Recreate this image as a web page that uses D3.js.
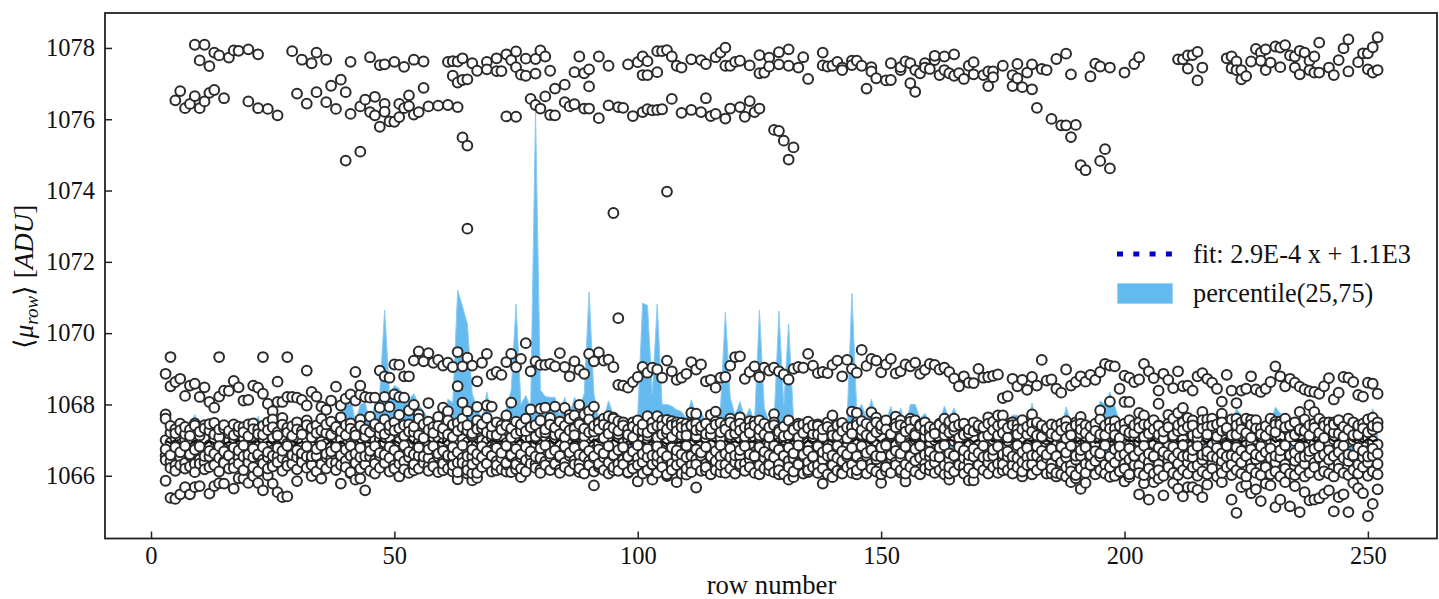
<!DOCTYPE html>
<html>
<head>
<meta charset="utf-8">
<script src="https://d3js.org/d3.v7.min.js"></script>
<style>
  body { margin: 0; background: #fff; }
  text { font-family: "Liberation Serif", serif; fill: #111; }
</style>
</head>
<body>
<div id="chart"></div>
<script>
const firstRow = 3;

const xTicks = [0, 50, 100, 150, 200, 250];
const yTicks = [1066, 1068, 1070, 1072, 1074, 1076, 1078];

const fitRows = [3, 252];
const fitValues = [1066.88, 1066.95];

// percentile band, one value per row from row 3, ten rows a line
const p75 = [
  1067.3,1067.3,1067.35,1067.3,1067.35,1067.4,1067.72,1067.3,1067.25,1067.3,
  1067.35,1067.3,1067.3,1067.35,1067.3,1067.3,1067.35,1067.3,1067.3,1067.67,
  1067.3,1067.3,1067.35,1067.46,1067.3,1067.3,1067.35,1067.3,1067.3,1067.35,
  1067.45,1067.55,1067.4,1067.3,1067.35,1067.4,1067.8,1068.15,1068.2,1067.5,
  1068.0,1068.05,1067.5,1068.0,1068.3,1070.65,1068.3,1068.53,1068.45,1068.2,
  1068.15,1068.3,1068.0,1067.8,1067.6,1067.5,1067.5,1067.5,1068.15,1068.05,
  1071.2,1070.75,1070.26,1068.3,1067.9,1067.6,1068.35,1067.6,1067.5,1067.6,
  1067.9,1068.4,1070.82,1068.0,1068.25,1067.9,1076.2,1068.4,1068.22,1068.2,
  1068.2,1067.7,1068.2,1067.7,1068.2,1067.9,1068.3,1071.15,1068.3,1067.6,
  1067.6,1068.1,1067.7,1067.4,1067.5,1067.4,1067.5,1067.7,1070.84,1070.78,
  1068.3,1070.82,1068.0,1068.0,1067.95,1067.85,1067.8,1067.6,1068.13,1067.7,
  1067.8,1067.5,1067.6,1067.5,1067.9,1070.59,1068.2,1067.7,1068.08,1067.6,
  1067.9,1067.5,1070.65,1067.9,1067.5,1067.5,1070.62,1068.0,1070.26,1067.6,
  1067.5,1067.4,1067.45,1067.4,1067.4,1067.5,1067.45,1067.4,1067.65,1067.45,
  1067.5,1071.12,1067.8,1068.0,1067.6,1068.15,1067.6,1067.5,1067.5,1067.95,
  1067.4,1067.9,1067.4,1068.0,1068.0,1067.6,1067.75,1067.5,1067.4,1067.5,
  1067.95,1067.6,1067.9,1067.5,1067.5,1067.4,1067.5,1067.5,1067.4,1067.75,
  1067.4,1067.4,1067.5,1067.5,1067.7,1067.7,1067.4,1067.4,1068.04,1067.5,
  1067.4,1067.35,1067.4,1067.35,1067.3,1067.93,1067.5,1067.4,1067.35,1067.4,
  1067.4,1067.5,1068.1,1068.0,1068.35,1067.95,1067.5,1067.4,1067.4,1067.35,
  1067.4,1067.3,1067.35,1067.4,1067.35,1067.3,1067.4,1067.35,1067.4,1067.35,
  1067.7,1067.4,1067.35,1067.3,1067.4,1067.35,1067.3,1067.35,1067.4,1067.45,
  1067.88,1067.7,1067.55,1067.4,1067.35,1067.4,1067.4,1067.5,1067.93,1067.75,
  1067.5,1067.4,1067.5,1067.6,1067.4,1067.35,1067.4,1067.35,1067.3,1067.4,
  1067.35,1067.4,1067.35,1067.7,1067.4,1067.35,1067.5,1067.55,1067.88,1067.5
];
const p25 = [
  1066.6,1066.6,1066.5,1066.6,1066.6,1066.5,1066.6,1066.7,1066.6,1066.6,
  1066.6,1066.5,1066.6,1066.6,1066.7,1066.6,1066.6,1066.5,1066.6,1066.6,
  1066.6,1066.7,1066.6,1066.5,1066.6,1066.6,1066.6,1066.7,1066.6,1066.6,
  1066.5,1066.6,1066.6,1066.7,1066.6,1066.6,1066.6,1066.5,1066.6,1066.6,
  1066.7,1066.6,1066.6,1066.6,1066.5,1066.6,1066.7,1066.6,1066.6,1066.6,
  1066.6,1066.5,1066.6,1066.6,1066.7,1066.6,1066.6,1066.6,1066.5,1066.6,
  1066.6,1066.6,1066.7,1066.6,1066.5,1066.6,1066.6,1066.6,1066.7,1066.6,
  1066.6,1066.5,1066.6,1066.6,1066.6,1066.7,1066.6,1066.6,1066.7,1066.6,
  1066.6,1066.5,1066.6,1066.7,1066.6,1066.6,1066.6,1066.6,1066.5,1066.6,
  1066.7,1066.6,1066.6,1066.6,1066.6,1066.5,1066.6,1066.6,1066.7,1066.6,
  1066.6,1066.6,1066.5,1066.6,1066.6,1066.7,1066.6,1066.6,1066.6,1066.5,
  1066.6,1066.6,1066.7,1066.6,1066.6,1066.6,1066.5,1066.6,1066.6,1066.7,
  1066.6,1066.6,1066.6,1066.5,1066.6,1066.6,1066.7,1066.6,1066.6,1066.6,
  1066.5,1066.6,1066.6,1066.7,1066.6,1066.6,1066.6,1066.5,1066.6,1066.6,
  1066.7,1066.6,1066.6,1066.6,1066.5,1066.6,1066.6,1066.7,1066.6,1066.6,
  1066.6,1066.5,1066.6,1066.6,1066.7,1066.6,1066.6,1066.6,1066.5,1066.6,
  1066.6,1066.7,1066.6,1066.6,1066.6,1066.5,1066.6,1066.6,1066.7,1066.6,
  1066.6,1066.6,1066.5,1066.6,1066.6,1066.7,1066.6,1066.6,1066.6,1066.5,
  1066.6,1066.6,1066.7,1066.6,1066.6,1066.6,1066.5,1066.6,1066.6,1066.7,
  1066.6,1066.6,1066.6,1066.5,1066.6,1066.6,1066.7,1066.6,1066.5,1066.6,
  1066.6,1066.5,1066.6,1066.7,1066.6,1066.6,1066.5,1066.6,1066.6,1066.6,
  1066.7,1066.6,1066.5,1066.6,1066.6,1066.6,1066.7,1066.6,1066.5,1066.6,
  1066.6,1066.6,1066.7,1066.6,1066.5,1066.6,1066.6,1066.6,1066.7,1066.6,
  1066.5,1066.6,1066.6,1066.6,1066.7,1066.6,1066.5,1066.6,1066.6,1066.6,
  1066.7,1066.6,1066.5,1066.6,1066.6,1066.6,1066.7,1066.6,1066.6,1066.6
];

// upper band of the scatter, read point by point as [row, value]
const topPoints = [
  [9,1078.09],[11,1078.09],[13,1077.87],[14,1077.79],[16,1077.73],[17,1077.93],[18,1077.92],[20,1077.96],[22,1077.82],[10,1077.65],[12,1077.49],
  [29,1077.91],[31,1077.67],[33,1077.57],[34,1077.87],[36,1077.67],[41,1077.61],[45,1077.74],[47,1077.52],[48,1077.54],[50,1077.61],[52,1077.47],[54,1077.67],[56,1077.62],
  [61,1077.61],[62,1077.63],[63,1077.62],[64,1077.71],[66,1077.57],[67,1077.36],[69,1077.61],[69,1077.4],[71,1077.71],[71,1077.35],[72,1077.35],[73,1077.82],[74,1077.66],
  [75,1077.9],[75,1077.46],[76,1077.25],[77,1077.7],[77,1077.22],[79,1077.69],[79,1077.28],[80,1077.93],[81,1077.76],[82,1077.36],[62,1077.22],[63,1077.03],[64,1077.1],[65,1077.12],
  [6,1076.79],[5,1076.53],[7,1076.31],[8,1076.43],[9,1076.65],[10,1076.31],[11,1076.5],[12,1076.74],[13,1076.82],[15,1076.59],[20,1076.5],[22,1076.31],[24,1076.29],[26,1076.11],
  [30,1076.72],[32,1076.44],[34,1076.76],[36,1076.48],[37,1076.94],[38,1076.29],[39,1077.11],[40,1076.76],[41,1076.15],[43,1076.36],[44,1076.55],[45,1076.2],[46,1076.63],[46,1076.11],
  [48,1076.43],[48,1076.21],[47,1075.79],[49,1075.94],[50,1075.93],[51,1076.06],[51,1076.43],[52,1076.31],[53,1076.67],[53,1076.37],[54,1076.13],[55,1076.2],[56,1076.88],[57,1076.36],
  [59,1076.38],[61,1076.4],[63,1076.34],[78,1076.57],[79,1076.4],[80,1076.3],[81,1076.64],[73,1076.08],[75,1076.07],[82,1076.12],[64,1075.49],[65,1075.26],[40,1074.84],[43,1075.09],[65,1072.93],
  [85,1076.97],[83,1076.86],[83,1076.11],[85,1076.48],[86,1076.36],[87,1076.42],[87,1077.32],[88,1077.76],[89,1077.29],[90,1077.4],[90,1076.92],[89,1076.3],[90,1076.3],[92,1077.76],[94,1077.5],
  [92,1076.03],[94,1076.39],[96,1076.34],[97,1076.32],[98,1077.54],[99,1076.09],[100,1077.6],[101,1077.76],[101,1077.24],[102,1077.63],[102,1077.24],[101,1076.2],[102,1076.28],[103,1076.25],
  [104,1076.26],[104,1077.32],[104,1077.91],[105,1077.91],[106,1077.94],[105,1076.28],[107,1077.76],[107,1076.57],[108,1077.5],[109,1077.45],[109,1076.18],[111,1076.26],[111,1077.68],
  [113,1077.66],[113,1076.2],[114,1077.55],[114,1076.59],[115,1076.09],[116,1076.15],[116,1077.74],[117,1077.87],[118,1078.01],[118,1077.5],[118,1076.02],[119,1076.3],[119,1077.5],
  [120,1077.61],[121,1077.64],[121,1076.34],[122,1076.07],[123,1077.51],[123,1076.51],[124,1076.2],[125,1077.8],[125,1077.29],[125,1076.3],[126,1077.31],[127,1077.73],[127,1077.48],
  [129,1077.88],[129,1077.54],[131,1077.96],[131,1077.5],[133,1077.45],[134,1077.74],[135,1077.13],[128,1075.7],[129,1075.67],[130,1075.4],[132,1075.21],[131,1074.87],[106,1073.97],[95,1073.37],
  [138,1077.87],[138,1077.51],[139,1077.48],[140,1077.5],[141,1077.61],[142,1077.45],[142,1077.38],[144,1077.64],[144,1077.52],[145,1077.64],[146,1077.5],[147,1076.86],[148,1077.46],[148,1077.34],
  [149,1077.15],[151,1077.09],[152,1077.1],[152,1077.57],[154,1077.38],[154,1077.46],[155,1077.62],[156,1077.57],[156,1077.01],[157,1077.38],[157,1076.77],[158,1077.29],[159,1077.57],[159,1077.45],
  [160,1077.41],[161,1077.66],[161,1077.78],[162,1077.24],[163,1077.76],[163,1077.38],[164,1077.29],[165,1077.82],[165,1077.22],[166,1077.29],[167,1077.13],[168,1077.5],[169,1077.6],[169,1077.26],
  [171,1077.24],[172,1076.93],[172,1077.34],[173,1077.34],[173,1077.18],[175,1077.5],[177,1077.24],[177,1076.93],[178,1077.15],[178,1077.55],[179,1076.9],[180,1077.31],[181,1077.54],[181,1076.84],
  [182,1076.32],[183,1077.41],[184,1077.38],[185,1076.01],[186,1077.69],[188,1077.84],[187,1075.83],[188,1075.83],[189,1077.26],[189,1075.5],[190,1075.84],[191,1074.71],[192,1074.57],[193,1077.2],
  [194,1077.56],[195,1077.48],[195,1074.83],[196,1075.16],[197,1077.45],[197,1074.62],[200,1077.31],[202,1077.55],[203,1077.74],[211,1077.68],[212,1077.68],[213,1077.79],[214,1077.8],[215,1077.89],
  [213,1077.42],[216,1077.45],[215,1077.09],[221,1077.71],[222,1077.76],[222,1077.43],[223,1077.62],[223,1077.38],[224,1077.38],[224,1077.12],[225,1077.21],[226,1077.62],[227,1077.97],[228,1077.87],
  [228,1077.64],[229,1077.96],[229,1077.38],[230,1077.59],[231,1078.04],[232,1077.46],[232,1078.01],[233,1078.08],[234,1077.79],[235,1077.76],[235,1077.45],[236,1077.92],[236,1077.26],[237,1077.87],
  [238,1077.64],[238,1077.38],[239,1077.76],[239,1077.31],[240,1078.15],[240,1077.31],[242,1077.45],[243,1077.24],[244,1077.66],[245,1077.99],[246,1078.24],[246,1077.34],[248,1077.6],[249,1077.85],
  [250,1077.85],[250,1077.4],[251,1078.02],[251,1077.31],[252,1078.3],[252,1077.38],[96,1070.42]
];

// band around 1069, one value per row from row 3
const midBand = [
  1068.86,1069.33,1068.63,1068.72,1068.24,1068.53,1068.58,1068.21,1068.48,1068.07,
  1067.91,1069.33,1068.39,1068.38,1068.66,1068.48,1068.11,1068.13,1068.53,1068.47,
  1069.33,1068.02,1067.81,1068.64,1068.07,1069.33,1068.21,1068.19,1068.13,1068.95,
  1068.35,1068.22,1067.94,1067.85,1068.11,1068.5,1067.97,1068.16,1068.28,1068.91,
  1068.53,1068.21,1068.19,1068.19,1068.95,1068.79,1068.75,1069.12,1069.11,1068.79,
  1068.79,1069.23,1069.49,1069.21,1069.44,1069.17,1069.25,1069.09,1069.17,1069.05,
  1069.47,1069.07,1069.31,1069.09,1068.65,1069.17,1069.42,1068.84,1068.91,1068.83,
  1069.19,1069.42,1069.05,1069.28,1069.72,1068.93,1069.21,1069.11,1069.11,1069.14,
  1069.07,1069.44,1069.05,1068.79,1069.21,1068.97,1068.86,1069.42,1069.21,1069.46,
  1069.23,1069.26,1069.05,1068.55,1068.53,1068.47,1068.63,1068.77,1069.05,1068.89,
  1069.03,1068.98,1068.75,1069.23,1068.93,1068.69,1068.75,1068.86,1069.19,1068.98,
  1069.12,1068.65,1068.69,1068.47,1068.75,1068.77,1069.09,1069.33,1069.35,1068.72,
  1068.91,1069.07,1068.77,1069.03,1068.95,1069.03,1068.93,1068.84,1068.7,1069.0,
  1069.05,1069.03,1069.42,1069.09,1068.88,1068.91,1068.88,1069.11,1069.23,1068.79,
  1069.25,1069.0,1068.89,1069.53,1069.08,1069.28,1069.23,1068.9,1069.12,1069.28,
  1068.87,1068.93,1069.12,1069.07,1069.17,1068.86,1068.97,1069.14,1069.11,1068.98,
  1069.03,1068.91,1068.73,1068.51,1068.79,1068.61,1068.6,1069.0,1068.75,1068.77,
  1068.8,1068.84,1068.18,1068.23,1068.72,1068.51,1068.69,1068.41,1068.77,1068.53,
  1069.25,1068.67,1068.7,1068.44,1068.33,1068.98,1068.53,1068.63,1068.79,1068.64,
  1068.83,1068.69,1068.91,1069.14,1069.09,1069.07,1068.44,1068.81,1068.75,1068.63,
  1068.7,1069.14,1068.93,1068.74,1068.39,1068.86,1068.69,1068.46,1068.93,1068.51,
  1068.53,1068.39,1068.79,1068.88,1068.72,1068.61,1068.44,1068.08,1068.83,1068.39,
  1068.04,1068.39,1068.44,1068.79,1068.42,1068.35,1068.44,1068.63,1069.07,1068.79,
  1068.51,1068.72,1068.61,1068.5,1068.42,1068.37,1068.35,1068.3,1068.51,1068.74,
  1068.14,1068.33,1068.77,1068.75,1068.63,1068.27,1068.22,1068.61,1068.58,1068.3
];

// second tier just above the dense core
const tierPoints = [
  [4,1068.51],[14,1068.22],[23,1068.3],[26,1068.07],[28,1068.21],[32,1067.97],[42,1068.11],[43,1068.28],[47,1067.91],[48,1068.21],[49,1067.93],[50,1068.28],[51,1068.21],[52,1068.19],[53,1067.83],
  [54,1067.99],[55,1067.72],[57,1068.04],[60,1067.91],[61,1067.81],[63,1068.51],[64,1068.05],[65,1067.81],[67,1067.93],[69,1067.97],[70,1067.94],[74,1068.05],[78,1067.86],[80,1067.88],[81,1067.91],
  [83,1067.94],[85,1067.9],[86,1067.71],[87,1067.69],[88,1067.99],[89,1067.72],[90,1067.81],[91,1067.94],[92,1067.5],[93,1067.6],[94,1067.67],[95,1067.63],[96,1067.53],[99,1067.5],[102,1067.67],
  [104,1067.67],[105,1067.55],[106,1067.57],[107,1067.53],[108,1067.5],[109,1067.48],[110,1067.46],[111,1067.76],[112,1067.74],[112,1067.46],[115,1067.71],[116,1067.8],[117,1067.48],[119,1067.6],
  [121,1067.64],[123,1067.53],[125,1067.55],[128,1067.73],[133,1067.46],[135,1067.36],[137,1067.44],[140,1067.69],[142,1067.44],[144,1067.8],[145,1067.76],[146,1067.53],[148,1067.78],[149,1067.63],
  [153,1067.66],[154,1067.55],[156,1067.6],[157,1067.55],[158,1067.34],[160,1067.25],[163,1067.6],[164,1067.44],[165,1067.6],[167,1067.44],[172,1067.64],[174,1067.69],
  [175,1067.69],[177,1067.5],[178,1067.44],[181,1067.72],[182,1067.44],[188,1067.53],[191,1067.65],[191,1067.46],[195,1067.83],[197,1068.08],[198,1067.53],[200,1068.07],[201,1068.07],[203,1067.76],
  [204,1067.69],[205,1067.27],[207,1068.02],[207,1067.41],[209,1067.71],[211,1067.76],[212,1067.9],[214,1067.55],[216,1067.79],[217,1067.58],[220,1067.74],[223,1067.6],[225,1067.55],[226,1067.57],
  [231,1067.52],[236,1067.79],[238,1067.98],[239,1067.79],[241,1067.5],[243,1067.5],[244,1067.52],[251,1067.63]
];

// lower outskirts below the core
const lowPoints = [
  [3,1065.86],[4,1065.38],[5,1065.35],[6,1065.48],[7,1065.68],[8,1065.48],[9,1065.68],[10,1065.71],[12,1065.5],[13,1065.71],[14,1065.79],[15,1065.78],[17,1065.64],[18,1065.93],[19,1065.92],[20,1065.8],
  [21,1065.99],[22,1065.8],[23,1065.59],[24,1066.01],[25,1065.78],[26,1065.54],[27,1065.4],[28,1065.42],[30,1065.85],[33,1065.99],[35,1065.92],[39,1065.78],[41,1066.07],[42,1065.89],[43,1065.92],
  [44,1065.59],[46,1066.06],[51,1065.98],[54,1066.15],[57,1066.26],[60,1066.15],[62,1066.12],[63,1065.9],[65,1066.06],[66,1065.87],[67,1065.94],[66,1066.07],[71,1066.15],[73,1066.12],[76,1065.96],
  [75,1066.18],[80,1066.17],[91,1065.73],[100,1065.84],[103,1065.89],[108,1065.82],[112,1065.67],[138,1065.78],[150,1065.8],[155,1065.84],[164,1065.89],[168,1065.87],[169,1065.87],[84,1066.17],
  [88,1066.1],[92,1066.24],[95,1066.15],[98,1066.08],[104,1066.4],[106,1065.99],[110,1066.03],[114,1066.15],[117,1066.1],[121,1066.26],[123,1066.48],[127,1066.15],[129,1066.04],[131,1065.89],[132,1065.96],
  [135,1066.1],[137,1066.09],[140,1065.96],[142,1066.1],[145,1066.04],[151,1066.13],[154,1066.09],[160,1066.15],[164,1066.06],[167,1066.26],[172,1066.36],
  [175,1066.15],[179,1065.98],[185,1066.06],[186,1065.98],[188,1065.98],[189,1065.82],[190,1065.93],[191,1065.63],[192,1065.8],[197,1065.97],[200,1065.84],[201,1065.96],
  [203,1065.48],[205,1065.33],[208,1065.45],[204,1065.79],[206,1065.82],[207,1065.92],[210,1065.79],[211,1065.64],[212,1065.42],[213,1065.68],[214,1065.68],[215,1065.6],[216,1065.4],[217,1065.75],
  [220,1065.82],[222,1065.33],[223,1064.96],[224,1065.68],[225,1065.75],[226,1065.51],[227,1065.62],[228,1065.29],[229,1065.78],[230,1065.73],[231,1065.12],[232,1065.33],[233,1065.82],[234,1065.14],
  [235,1065.71],[236,1064.98],[237,1065.54],[238,1065.31],[239,1065.33],[240,1065.37],[241,1065.49],[242,1065.59],[243,1065.0],[244,1065.4],[245,1065.48],[246,1064.98],[247,1065.8],[248,1065.65],
  [249,1065.51],[250,1064.87],[251,1065.21],[252,1065.62]
];

// dense core, estimated, one value per row from row 3
const coreHigh = [
  1067.72,1067.21,1067.31,1067.46,1067.17,1067.29,1067.47,1067.13,1067.42,1067.27,
  1067.48,1067.09,1067.33,1067.19,1067.44,1067.24,1067.36,1067.11,1067.47,1067.3,
  1067.15,1067.5,1067.58,1067.22,1067.62,1067.35,1067.12,1067.5,1067.26,1067.55,
  1067.08,1067.41,1067.6,1067.2,1067.52,1067.31,1067.64,1067.14,1067.47,1067.24,
  1067.58,1067.1,1067.66,1067.38,1067.18,1067.58,1067.29,1067.5,1067.71,1067.12,
  1067.44,1067.23,1067.6,1067.06,1067.52,1067.37,1067.65,1067.18,1067.55,1067.09,
  1067.48,1067.6,1067.27,1067.13,1067.55,1067.34,1067.62,1067.16,1067.5,1067.41,
  1067.69,1067.07,1067.52,1067.25,1067.6,1067.38,1067.1,1067.55,1067.21,1067.62,
  1067.15,1067.52,1067.08,1067.6,1067.32,1067.5,1067.11,1067.58,1067.24,1067.47,
  1067.06,1067.36,1067.6,1067.17,1067.5,1067.3,1067.08,1067.55,1067.26,1067.12,
  1067.5,1067.07,1067.39,1067.2,1067.09,1067.42,1067.14,1067.33,1067.44,1067.11,
  1067.28,1067.46,1067.16,1067.52,1067.06,1067.42,1067.5,1067.19,1067.46,1067.1,
  1067.34,1067.52,1067.13,1067.46,1067.08,1067.5,1067.29,1067.11,1067.55,1067.35,
  1067.07,1067.44,1067.52,1067.17,1067.4,1067.09,1067.5,1067.27,1067.12,1067.48,
  1067.05,1067.36,1067.5,1067.15,1067.46,1067.08,1067.5,1067.31,1067.55,1067.13,
  1067.46,1067.06,1067.38,1067.52,1067.2,1067.44,1067.5,1067.09,1067.33,1067.46,
  1067.14,1067.52,1067.27,1067.06,1067.46,1067.19,1067.5,1067.35,1067.08,1067.46,
  1067.52,1067.13,1067.44,1067.07,1067.5,1067.3,1067.56,1067.16,1067.46,1067.5,
  1067.1,1067.28,1067.44,1067.12,1067.46,1067.05,1067.33,1067.5,1067.18,1067.42,
  1067.08,1067.46,1067.58,1067.14,1067.5,1067.32,1067.06,1067.46,1067.56,1067.2,
  1067.5,1067.09,1067.44,1067.56,1067.16,1067.05,1067.46,1067.6,1067.25,1067.5,
  1067.62,1067.13,1067.06,1067.56,1067.37,1067.6,1067.1,1067.5,1067.28,1067.58,
  1067.15,1067.5,1067.6,1067.07,1067.56,1067.33,1067.12,1067.6,1067.44,1067.52,
  1067.6,1067.09,1067.5,1067.26,1067.58,1067.13,1067.46,1067.6,1067.06,1067.5,
  1067.21,1067.56,1067.1,1067.6,1067.5,1067.15,1067.46,1067.58,1067.29,1067.5
];
const coreUpper = [
  1067.6,1067.4,1067.19,1067.28,1067.37,1067.12,1067.41,1067.24,1067.33,1067.45,
  1067.16,1067.3,1067.42,1067.26,1067.14,1067.38,1067.22,1067.44,1067.31,1067.17,
  1067.4,1067.28,1067.36,1067.13,1067.43,1067.21,1067.39,1067.3,1067.16,1067.42,
  1067.34,1067.2,1067.27,1067.44,1067.15,1067.37,1067.25,1067.42,1067.32,1067.13,
  1067.4,1067.3,1067.22,1067.45,1067.35,1067.17,1067.41,1067.27,1067.33,1067.42,
  1067.24,1067.38,1067.14,1067.44,1067.29,1067.2,1067.4,1067.33,1067.16,1067.43,
  1067.26,1067.36,1067.42,1067.19,1067.31,1067.45,1067.22,1067.38,1067.14,1067.29,
  1067.41,1067.33,1067.18,1067.44,1067.25,1067.36,1067.42,1067.21,1067.3,1067.43,
  1067.35,1067.17,1067.4,1067.27,1067.14,1067.44,1067.32,1067.22,1067.4,1067.3,
  1067.43,1067.18,1067.34,1067.26,1067.41,1067.15,1067.38,1067.29,1067.44,1067.21,
  1067.33,1067.4,1067.16,1067.3,1067.42,1067.25,1067.36,1067.13,1067.41,1067.28,
  1067.38,1067.17,1067.32,1067.43,1067.22,1067.3,1067.15,1067.4,1067.27,1067.36,
  1067.2,1067.41,1067.3,1067.16,1067.36,1067.42,1067.23,1067.38,1067.14,1067.29,
  1067.4,1067.2,1067.33,1067.42,1067.16,1067.3,1067.37,1067.13,1067.41,1067.25,
  1067.36,1067.18,1067.42,1067.28,1067.14,1067.38,1067.22,1067.41,1067.3,1067.17,
  1067.36,1067.42,1067.24,1067.31,1067.14,1067.4,1067.28,1067.37,1067.18,1067.43,
  1067.32,1067.21,1067.38,1067.43,1067.15,1067.3,1067.25,1067.41,1067.36,1067.13,
  1067.28,1067.4,1067.2,1067.34,1067.42,1067.16,1067.3,1067.38,1067.24,1067.13,
  1067.41,1067.33,1067.18,1067.4,1067.27,1067.36,1067.14,1067.42,1067.3,1067.2,
  1067.38,1067.26,1067.16,1067.41,1067.32,1067.14,1067.4,1067.28,1067.21,1067.42,
  1067.34,1067.44,1067.18,1067.3,1067.4,1067.24,1067.36,1067.13,1067.42,1067.28,
  1067.37,1067.41,1067.2,1067.32,1067.16,1067.4,1067.44,1067.26,1067.34,1067.14,
  1067.41,1067.3,1067.2,1067.43,1067.33,1067.17,1067.39,1067.28,1067.22,1067.44,
  1067.36,1067.41,1067.15,1067.3,1067.26,1067.42,1067.34,1067.2,1067.4,1067.31,
  1067.44,1067.18,1067.38,1067.29,1067.14,1067.41,1067.33,1067.22,1067.4,1067.36
];
const coreMid = [
  1067.0,1066.93,1067.06,1066.88,1067.02,1066.96,1067.09,1066.9,1067.04,1066.86,
  1067.0,1067.08,1066.92,1066.98,1067.05,1066.87,1067.03,1066.94,1067.1,1066.89,
  1067.01,1066.95,1067.07,1066.86,1067.04,1066.9,1066.99,1067.08,1066.93,1067.03,
  1066.87,1067.06,1066.96,1066.89,1067.1,1066.94,1067.02,1066.86,1067.05,1066.98,
  1066.91,1067.09,1066.88,1067.0,1067.04,1066.93,1067.07,1066.87,1066.97,1067.1,
  1066.9,1067.03,1066.95,1067.06,1066.86,1067.01,1067.08,1066.92,1066.98,1067.05,
  1066.88,1067.03,1066.94,1067.1,1066.89,1067.0,1066.96,1067.07,1066.86,1067.04,
  1066.92,1067.09,1066.97,1066.87,1067.02,1067.06,1066.9,1066.99,1067.08,1066.93,
  1067.03,1066.87,1067.05,1066.95,1067.1,1066.88,1067.01,1066.94,1067.07,1066.9,
  1067.04,1066.97,1066.86,1067.09,1066.92,1067.02,1067.06,1066.89,1067.0,1066.95,
  1067.08,1066.87,1067.03,1066.96,1067.1,1066.91,1067.05,1066.88,1066.99,1067.07,
  1066.93,1067.02,1066.86,1067.09,1066.94,1067.0,1067.05,1066.89,1067.06,1066.97,
  1066.9,1067.08,1066.95,1067.03,1066.87,1067.1,1066.92,1067.01,1067.05,1066.88,
  1066.98,1067.07,1066.93,1067.04,1066.86,1067.09,1066.96,1066.9,1067.02,1067.06,
  1066.89,1067.0,1066.94,1067.1,1066.87,1067.03,1066.97,1067.08,1066.91,1067.05,
  1066.88,1066.99,1067.07,1066.93,1067.02,1066.86,1067.09,1066.95,1067.0,1067.05,
  1066.9,1067.06,1066.97,1066.88,1067.08,1066.94,1067.03,1066.87,1067.1,1066.92,
  1067.01,1067.05,1066.89,1066.98,1067.07,1066.93,1067.04,1066.86,1067.09,1066.96,
  1066.9,1067.02,1067.06,1066.88,1067.0,1066.94,1067.1,1066.87,1067.03,1066.97,
  1067.08,1066.91,1067.05,1066.89,1066.99,1067.07,1066.93,1067.02,1066.86,1067.09,
  1066.95,1067.0,1067.05,1066.9,1067.06,1066.97,1066.88,1067.08,1066.94,1067.03,
  1066.87,1067.1,1066.92,1067.01,1067.05,1066.89,1066.98,1067.07,1066.93,1067.04,
  1066.86,1067.09,1066.96,1066.9,1067.02,1067.06,1066.88,1067.0,1066.94,1067.1,
  1066.87,1067.03,1066.97,1067.08,1066.91,1067.05,1066.89,1066.99,1067.07,1066.93,
  1067.02,1066.86,1067.09,1066.95,1067.0,1067.05,1066.9,1067.06,1066.97,1066.88
];
// jagged dark trace through the middle of the core
const rowMean = [
  1066.98,1066.92,1067.0,1066.9,1066.96,1066.88,1066.98,1066.93,1066.87,1066.97,
  1066.91,1067.0,1066.89,1066.95,1066.9,1066.99,1066.87,1066.94,1066.92,1066.98,
  1066.88,1066.96,1066.9,1067.0,1066.87,1066.93,1066.97,1066.89,1066.95,1066.86,
  1066.98,1066.91,1066.94,1066.86,1066.99,1066.9,1066.96,1066.88,1066.93,1067.01,
  1066.89,1066.97,1066.92,1066.87,1067.0,1066.93,1066.88,1066.98,1066.91,1066.95,
  1067.02,1066.9,1066.96,1066.93,1067.01,1066.89,1066.97,1066.91,1067.03,1066.94,
  1066.88,1066.99,1066.92,1067.02,1066.9,1066.96,1066.89,1067.01,1066.94,1066.98,
  1066.88,1067.0,1066.93,1067.03,1066.91,1066.97,1066.89,1067.01,1066.94,1066.99,
  1066.9,1067.02,1066.95,1066.88,1067.0,1066.92,1066.97,1066.89,1067.02,1066.94,
  1066.99,1066.9,1067.01,1066.93,1066.87,1066.98,1066.91,1067.0,1066.94,1066.89,
  1067.01,1066.93,1066.97,1066.88,1067.0,1066.92,1066.96,1066.89,1067.02,1066.94,
  1066.98,1066.9,1067.01,1066.95,1066.88,1067.0,1066.92,1066.97,1066.9,1067.03,
  1066.94,1066.98,1066.89,1067.01,1066.93,1067.04,1066.91,1066.97,1066.9,1067.02,
  1066.95,1066.88,1067.0,1066.93,1066.98,1066.9,1067.02,1066.94,1066.99,1066.89,
  1067.01,1066.95,1067.04,1066.91,1066.98,1066.9,1067.03,1066.94,1067.0,1066.92,
  1067.04,1066.96,1066.9,1067.02,1066.94,1067.0,1066.92,1067.05,1066.95,1066.99,
  1066.91,1067.03,1066.96,1067.01,1066.9,1067.04,1066.94,1067.0,1066.92,1067.03,
  1066.96,1067.05,1066.91,1066.99,1066.94,1067.03,1066.9,1067.01,1066.96,1067.04,
  1066.92,1067.0,1066.94,1067.05,1066.91,1066.98,1067.03,1066.93,1067.01,1066.95,
  1067.05,1066.92,1066.99,1067.03,1066.94,1067.01,1066.91,1067.04,1066.96,1067.0,
  1066.93,1067.05,1066.95,1067.01,1066.92,1067.03,1066.97,1067.06,1066.94,1067.0,
  1066.92,1067.04,1066.96,1067.01,1066.93,1067.05,1066.98,1066.92,1067.03,1066.95,
  1067.06,1066.94,1067.01,1066.97,1067.04,1066.93,1067.0,1067.05,1066.95,1067.02,
  1066.93,1067.06,1066.97,1067.01,1066.94,1067.04,1066.96,1067.02,1066.93,1067.05,
  1066.97,1067.01,1066.94,1067.06,1066.96,1067.02,1066.93,1067.04,1066.97,1067.0
];
const coreLowA = [
  1066.74,1066.58,1066.8,1066.66,1066.84,1066.6,1066.73,1066.82,1066.55,1066.7,
  1066.62,1066.83,1066.68,1066.57,1066.79,1066.71,1066.85,1066.59,1066.76,1066.6,
  1066.81,1066.66,1066.56,1066.78,1066.7,1066.84,1066.58,1066.72,1066.63,1066.82,
  1066.55,1066.75,1066.85,1066.61,1066.68,1066.8,1066.57,1066.73,1066.84,1066.62,
  1066.78,1066.55,1066.7,1066.83,1066.64,1066.59,1066.81,1066.72,1066.56,1066.85,
  1066.67,1066.6,1066.79,1066.54,1066.74,1066.83,1066.62,1066.7,1066.57,1066.8,
  1066.66,1066.85,1066.55,1066.73,1066.61,1066.82,1066.69,1066.56,1066.78,1066.64,
  1066.84,1066.58,1066.75,1066.6,1066.81,1066.68,1066.54,1066.77,1066.85,1066.62,
  1066.71,1066.56,1066.82,1066.65,1066.78,1066.59,1066.85,1066.7,1066.55,1066.74,
  1066.63,1066.83,1066.58,1066.72,1066.8,1066.54,1066.68,1066.85,1066.61,1066.76,
  1066.57,1066.82,1066.66,1066.55,1066.79,1066.71,1066.6,1066.84,1066.56,1066.74,
  1066.65,1066.81,1066.54,1066.69,1066.85,1066.62,1066.77,1066.57,1066.72,1066.83,
  1066.6,1066.55,1066.8,1066.67,1066.58,1066.84,1066.73,1066.56,1066.79,1066.63,
  1066.85,1066.59,1066.7,1066.54,1066.82,1066.66,1066.76,1066.57,1066.84,1066.69,
  1066.6,1066.78,1066.55,1066.83,1066.64,1066.72,1066.56,1066.8,1066.85,1066.58,
  1066.7,1066.62,1066.82,1066.54,1066.75,1066.84,1066.59,1066.67,1066.55,1066.79,
  1066.85,1066.63,1066.56,1066.81,1066.71,1066.58,1066.76,1066.64,1066.84,1066.55,
  1066.73,1066.82,1066.6,1066.68,1066.54,1066.85,1066.66,1066.78,1066.57,1066.83,
  1066.7,1066.59,1066.75,1066.55,1066.81,1066.65,1066.84,1066.56,1066.72,1066.8,
  1066.58,1066.69,1066.63,1066.85,1066.54,1066.74,1066.82,1066.6,1066.77,1066.56,
  1066.7,1066.84,1066.62,1066.55,1066.79,1066.67,1066.58,1066.81,1066.64,1066.85,
  1066.56,1066.72,1066.83,1066.59,1066.68,1066.54,1066.78,1066.63,1066.84,1066.57,
  1066.8,1066.7,1066.55,1066.74,1066.6,1066.82,1066.66,1066.77,1066.56,1066.71,
  1066.85,1066.58,1066.64,1066.81,1066.54,1066.69,1066.75,1066.83,1066.59,1066.72,
  1066.55,1066.66,1066.84,1066.6,1066.57,1066.79,1066.7,1066.54,1066.76,1066.62
];
const coreLowB = [
  1066.56,1066.4,1066.3,1066.52,1066.36,1066.56,1066.33,1066.46,1066.38,1066.54,
  1066.32,1066.5,1066.4,1066.56,1066.36,1066.5,1066.54,1066.42,1066.52,1066.56,
  1066.45,1066.52,1066.36,1066.54,1066.5,1066.4,1066.56,1066.52,1066.5,1066.54,
  1066.44,1066.56,1066.34,1066.52,1066.48,1066.36,1066.54,1066.42,1066.56,1066.38,
  1066.52,1066.32,1066.54,1066.44,1066.56,1066.36,1066.5,1066.3,1066.54,1066.4,
  1066.52,1066.33,1066.56,1066.43,1066.5,1066.36,1066.54,1066.4,1066.52,1066.56,
  1066.37,1066.5,1066.31,1066.54,1066.44,1066.52,1066.35,1066.56,1066.41,1066.5,
  1066.32,1066.54,1066.38,1066.52,1066.44,1066.56,1066.33,1066.5,1066.4,1066.54,
  1066.31,1066.52,1066.37,1066.56,1066.43,1066.34,1066.54,1066.41,1066.5,1066.3,
  1066.52,1066.37,1066.56,1066.33,1066.45,1066.54,1066.29,1066.5,1066.38,1066.52,
  1066.31,1066.56,1066.42,1066.5,1066.34,1066.54,1066.37,1066.52,1066.3,1066.46,
  1066.56,1066.33,1066.5,1066.41,1066.54,1066.31,1066.52,1066.38,1066.56,1066.34,
  1066.46,1066.54,1066.29,1066.5,1066.37,1066.52,1066.32,1066.56,1066.42,1066.5,
  1066.34,1066.54,1066.38,1066.52,1066.29,1066.45,1066.56,1066.33,1066.5,1066.41,
  1066.54,1066.31,1066.52,1066.37,1066.56,1066.34,1066.46,1066.54,1066.29,1066.5,
  1066.38,1066.52,1066.32,1066.56,1066.42,1066.5,1066.34,1066.54,1066.37,1066.52,
  1066.29,1066.45,1066.56,1066.33,1066.5,1066.41,1066.54,1066.31,1066.52,1066.37,
  1066.56,1066.33,1066.46,1066.54,1066.29,1066.5,1066.38,1066.52,1066.32,1066.56,
  1066.42,1066.5,1066.34,1066.54,1066.38,1066.52,1066.29,1066.45,1066.56,1066.33,
  1066.5,1066.41,1066.54,1066.31,1066.52,1066.37,1066.56,1066.33,1066.46,1066.54,
  1066.29,1066.5,1066.38,1066.52,1066.32,1066.56,1066.42,1066.5,1066.34,1066.54,
  1066.37,1066.52,1066.29,1066.45,1066.56,1066.33,1066.5,1066.41,1066.54,1066.31,
  1066.52,1066.37,1066.56,1066.33,1066.46,1066.54,1066.29,1066.5,1066.38,1066.52,
  1066.32,1066.56,1066.42,1066.5,1066.34,1066.54,1066.37,1066.52,1066.29,1066.45,
  1066.56,1066.33,1066.5,1066.41,1066.54,1066.31,1066.52,1066.37,1066.56,1066.33
];
const coreBottom = [
  1066.44,1066.22,1066.14,1066.3,1066.2,1066.26,1066.1,1066.34,1066.18,1066.24,
  1066.3,1066.12,1066.36,1066.2,1066.22,1066.34,1066.16,1066.38,1066.24,1066.12,
  1066.34,1066.2,1066.26,1066.38,1066.14,1066.28,1066.34,1066.18,1066.38,1066.22,
  1066.3,1066.12,1066.32,1066.2,1066.36,1066.16,1066.3,1066.24,1066.1,1066.36,
  1066.2,1066.32,1066.14,1066.34,1066.22,1066.36,1066.12,1066.2,1066.34,1066.18,
  1066.08,1066.32,1066.2,1066.36,1066.14,1066.26,1066.1,1066.34,1066.2,1066.3,
  1066.1,1066.36,1066.16,1066.32,1066.08,1066.24,1066.34,1066.12,1066.3,1066.18,
  1066.36,1066.1,1066.32,1066.2,1066.12,1066.34,1066.22,1066.08,1066.3,1066.16,
  1066.34,1066.08,1066.24,1066.14,1066.32,1066.2,1066.06,1066.3,1066.12,1066.34,
  1066.16,1066.06,1066.24,1066.14,1066.32,1066.1,1066.2,1066.3,1066.06,1066.16,
  1066.32,1066.08,1066.24,1066.04,1066.16,1066.3,1066.06,1066.2,1066.1,1066.32,
  1066.14,1066.24,1066.04,1066.16,1066.3,1066.08,1066.2,1066.06,1066.32,1066.14,
  1066.24,1066.08,1066.04,1066.2,1066.3,1066.1,1066.16,1066.04,1066.24,1066.12,
  1066.32,1066.06,1066.16,1066.24,1066.08,1066.2,1066.04,1066.3,1066.14,1066.06,
  1066.24,1066.08,1066.16,1066.3,1066.06,1066.2,1066.12,1066.04,1066.24,1066.08,
  1066.3,1066.16,1066.06,1066.24,1066.12,1066.04,1066.2,1066.3,1066.08,1066.16,
  1066.04,1066.24,1066.12,1066.3,1066.06,1066.2,1066.08,1066.3,1066.16,1066.06,
  1066.24,1066.08,1066.32,1066.16,1066.06,1066.24,1066.12,1066.3,1066.04,1066.16,
  1066.3,1066.06,1066.2,1066.08,1066.04,1066.24,1066.12,1066.02,1066.2,1066.08,
  1066.3,1066.04,1066.16,1066.06,1066.24,1066.0,1066.12,1066.2,1066.04,1066.3,
  1066.08,1066.02,1066.2,1066.06,1066.16,1066.0,1066.24,1066.08,1066.02,1066.16,
  1066.06,1066.24,1066.0,1066.12,1066.04,1066.2,1065.98,1066.08,1066.24,1066.02,
  1066.16,1066.06,1065.98,1066.2,1066.08,1066.02,1066.24,1066.04,1066.12,1065.98,
  1066.2,1066.06,1066.02,1066.16,1065.98,1066.08,1066.24,1066.02,1066.12,1066.06,
  1065.98,1066.2,1066.08,1066.02,1066.16,1066.06,1066.24,1066.0,1066.12,1066.04
];

const width = 1439;
const height = 599;
const margin = { top: 13, right: 2, bottom: 60.5, left: 105 };

const svg = d3.select("#chart").append("svg")
    .attr("width", width)
    .attr("height", height)
    .style("display", "block");

const x = d3.scaleLinear().domain([-9.45, 264.2]).range([margin.left, width - margin.right]);
const y = d3.scaleLinear().domain([1064.24, 1078.98]).range([height - margin.bottom, margin.top]);

const rowOf = i => firstRow + i;
const perRow = values => values.map((v, i) => [rowOf(i), v]);

// percentile band goes under everything
const band = d3.area()
    .x((d, i) => x(rowOf(i)))
    .y0((d, i) => y(p25[i]))
    .y1(d => y(d));

svg.append("path")
    .attr("d", band(p75))
    .attr("fill", "#5db7ee")
    .attr("fill-opacity", 0.95)
    .attr("stroke", "#8ccbf3")
    .attr("stroke-width", 1);

svg.append("path")
    .attr("d", d3.line().x((d, i) => x(fitRows[i])).y(d => y(d))(fitValues))
    .attr("fill", "none")
    .attr("stroke", "#0000c8")
    .attr("stroke-width", 4)
    .attr("stroke-dasharray", "6,10");

function drawRings(data) {
    svg.append("g")
        .selectAll("circle")
        .data(d3.sort(data, d => d[0]))
        .enter()
        .append("circle")
        .attr("cx", d => x(d[0]))
        .attr("cy", d => y(d[1]))
        .attr("r", 4.9)
        .attr("fill", "#fff")
        .attr("stroke", "#2a2a2a")
        .attr("stroke-width", 2);
}

// the middle rings and the dark trace go first, the other rows sit on top
drawRings(perRow(coreMid));

svg.append("path")
    .attr("d", d3.line().x((d, i) => x(rowOf(i))).y(d => y(d))(rowMean))
    .attr("fill", "none")
    .attr("stroke", "#111")
    .attr("stroke-width", 2.2);

drawRings([].concat(topPoints, tierPoints, lowPoints, perRow(midBand), perRow(coreHigh), perRow(coreUpper), perRow(coreLowB), perRow(coreBottom), perRow(coreLowA)));

// axes, ticks point inwards
const xAxis = svg.append("g")
    .attr("transform", `translate(0,${height - margin.bottom})`)
    .call(d3.axisBottom(x).tickValues(xTicks).tickSize(-7).tickPadding(8).tickFormat(d3.format("d")));
const yAxis = svg.append("g")
    .attr("transform", `translate(${margin.left},0)`)
    .call(d3.axisLeft(y).tickValues(yTicks).tickSize(-7).tickPadding(10).tickFormat(d3.format("d")));

[xAxis, yAxis].forEach(axis => {
    axis.select(".domain").remove();
    axis.selectAll("line").attr("stroke", "#222").attr("stroke-width", 1.5);
    axis.selectAll("text")
        .attr("fill", "#111")
        .style("font-family", '"Liberation Serif", serif')
        .style("font-size", "24.5px");
});

svg.append("rect")
    .attr("x", margin.left)
    .attr("y", margin.top)
    .attr("width", width - margin.left - margin.right)
    .attr("height", height - margin.top - margin.bottom)
    .attr("fill", "none")
    .attr("stroke", "#222")
    .attr("stroke-width", 1.8);

svg.append("text")
    .attr("x", 771.5)
    .attr("y", 594)
    .attr("text-anchor", "middle")
    .style("font-size", "26.7px")
    .text("row number");

const yLabel = svg.append("text")
    .attr("transform", "translate(33,277) rotate(-90)")
    .attr("text-anchor", "middle")
    .style("font-size", "27px");
yLabel.append("tspan").text("⟨");
yLabel.append("tspan").style("font-style", "italic").text("μ");
yLabel.append("tspan").style("font-style", "italic").style("font-size", "19px").attr("dy", 5).text("row");
yLabel.append("tspan").attr("dy", -5).text("⟩ [");
yLabel.append("tspan").style("font-style", "italic").text("ADU");
yLabel.append("tspan").text("]");

// legend
svg.append("line")
    .attr("x1", 1117).attr("x2", 1172)
    .attr("y1", 254).attr("y2", 254)
    .attr("stroke", "#0000c8")
    .attr("stroke-width", 5)
    .attr("stroke-dasharray", "6,10.3");
svg.append("rect")
    .attr("x", 1117.5).attr("y", 283.5)
    .attr("width", 55).attr("height", 20)
    .attr("fill", "#63baef")
    .attr("stroke", "#a0d5f5")
    .attr("stroke-width", 1);
svg.append("text").attr("x", 1193).attr("y", 263).style("font-size", "26.3px").text("fit: 2.9E-4 x + 1.1E3");
svg.append("text").attr("x", 1193).attr("y", 302).style("font-size", "26.3px").text("percentile(25,75)");
</script>
</body>
</html>
